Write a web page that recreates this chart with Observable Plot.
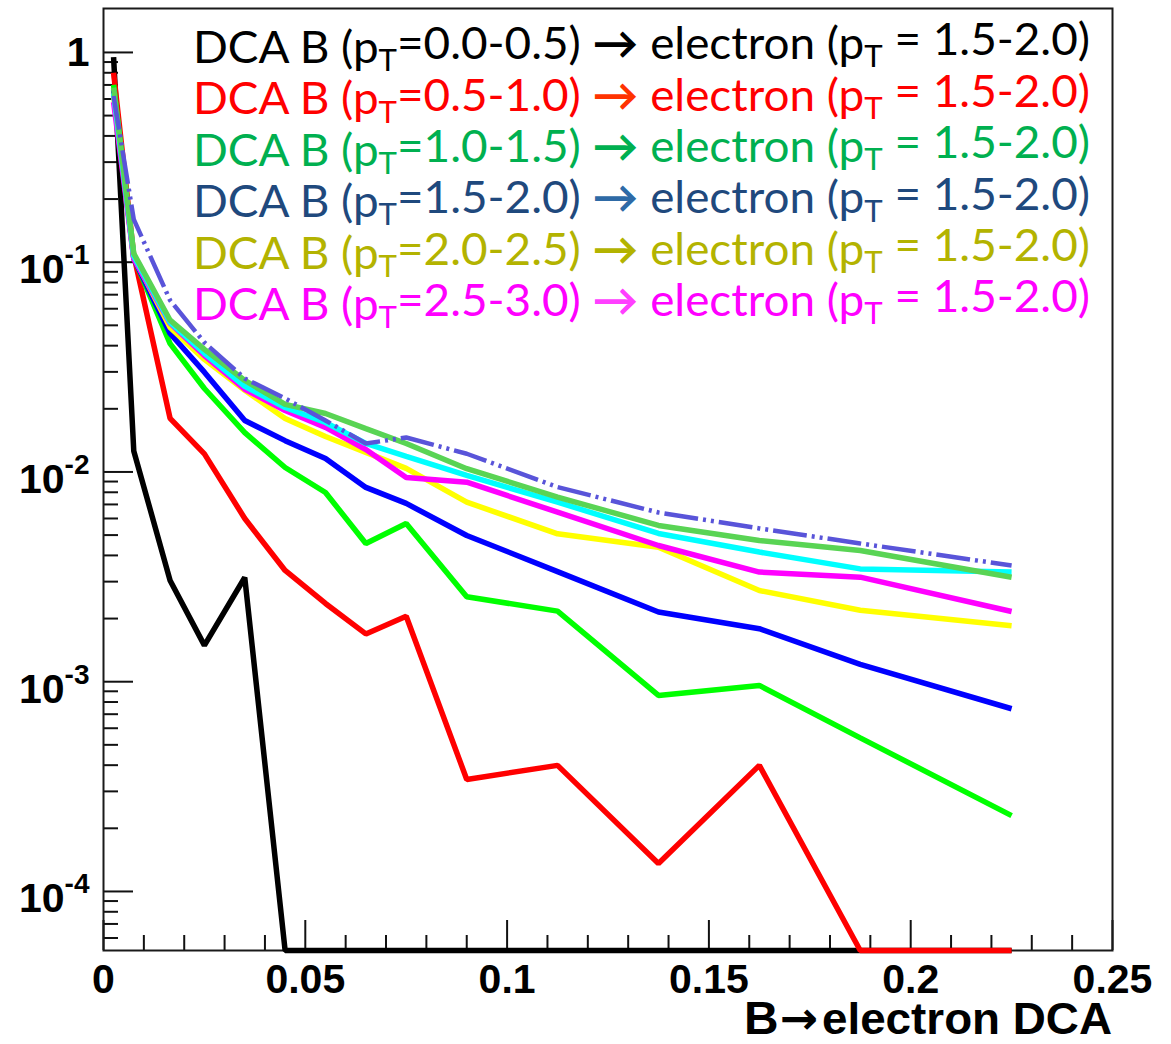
<!DOCTYPE html>
<html>
<head>
<meta charset="utf-8">
<script src="https://cdn.jsdelivr.net/npm/d3@7"></script>
<script src="https://cdn.jsdelivr.net/npm/@observablehq/plot@0.6"></script>
<style>
  body { margin: 0; background: #fff; }
  svg { display: block; }
</style>
</head>
<body>
<div id="chart"></div>
<script>
// Bin centres of the DCA histograms (cm)
const dcaBins = [0.0025, 0.0075, 0.0165, 0.025, 0.035, 0.045, 0.055, 0.065, 0.075, 0.09, 0.1125, 0.1375, 0.1625, 0.1875, 0.225];

// Normalised B -> electron DCA distributions, one per B pT bin (0 = empty bin)
const hDcaPt00_05 = [0.95, 0.0126, 0.00304, 0.00149, 0.00314, 0, 0, 0, 0, 0, 0, 0, 0, 0, 0];
const hDcaPt05_10 = [0.80, 0.108, 0.0180, 0.0122, 0.0060, 0.00339, 0.00236, 0.00169, 0.00205, 0.000342, 0.000399, 0.000136, 0.000399, 0, 0];
const hDcaPt10_15 = [0.70, 0.105, 0.0409, 0.0250, 0.0154, 0.0105, 0.00798, 0.00456, 0.00568, 0.00254, 0.00217, 0.00086, 0.00096, 0.00054, 0.00023];
const hDcaPt15_20 = [0.66, 0.104, 0.0457, 0.0299, 0.0176, 0.0141, 0.0116, 0.00844, 0.00708, 0.00498, 0.00335, 0.00215, 0.00179, 0.00121, 0.000743];
const hDcaPt20_25 = [0.62, 0.106, 0.0489, 0.0344, 0.0245, 0.0180, 0.01476, 0.0124, 0.0104, 0.00718, 0.00507, 0.00438, 0.00272, 0.00219, 0.00185];
const hDcaPt25_30 = [0.58, 0.104, 0.0511, 0.0359, 0.0248, 0.01964, 0.0163, 0.0128, 0.00941, 0.00894, 0.00643, 0.00446, 0.00333, 0.00315, 0.00216];
const hDcaPt30_35 = [0.64, 0.107, 0.0516, 0.0368, 0.0256, 0.0203, 0.0172, 0.01367, 0.01186, 0.00962, 0.00718, 0.00509, 0.00415, 0.00345, 0.00333];
const hDcaPt35_40 = [0.68, 0.110, 0.0529, 0.0384, 0.0273, 0.0210, 0.0190, 0.0161, 0.01367, 0.01036, 0.00759, 0.00556, 0.00471, 0.00422, 0.00315];
const hDcaPt40_45 = [0.62, 0.160, 0.0658, 0.0414, 0.0279, 0.0224, 0.0176, 0.01367, 0.0146, 0.01221, 0.00847, 0.00641, 0.00538, 0.00456, 0.00358];

// ROOT palette colours 1..9
const lineColors = ["#000000", "#ff0000", "#00ff00", "#0000ff", "#ffff00", "#ff00ff", "#00ffff", "#59d454", "#5954d9"];

// Legend rows
const legendPt = ["0.0-0.5", "0.5-1.0", "1.0-1.5", "1.5-2.0", "2.0-2.5", "2.5-3.0"];
const legendColors = ["#000000", "#ff0000", "#00b050", "#1f497d", "#b3b300", "#ff00ff"];
const legendArrowColors = ["#000000", "#ff3300", "#00b050", "#2e6aa6", "#b3b300", "#ff40ff"];
const electronPt = "1.5-2.0";

// Axis ticks and labels
const xMajor = [0, 0.05, 0.1, 0.15, 0.2, 0.25];
const xTickLabels = ["0", "0.05", "0.1", "0.15", "0.2", "0.25"];
const xMinor = [0.01, 0.02, 0.03, 0.04, 0.06, 0.07, 0.08, 0.09, 0.11, 0.12, 0.13, 0.14, 0.16, 0.17, 0.18, 0.19, 0.21, 0.22, 0.23, 0.24];
const yMajor = [1e-4, 1e-3, 1e-2, 1e-1, 1];
const yTickBase = ["10", "10", "10", "10", "1"];
const yTickExp = ["-4", "-3", "-2", "-1", ""];
const xTitle = ["B", "→", "electron DCA"];

const yMin = 5.23e-5, yMax = 1.62;
const yMinor = [-5, -4, -3, -2, -1, 0].flatMap(e => [2, 3, 4, 5, 6, 7, 8, 9].map(k => k * Math.pow(10, e)))
  .filter(v => v > yMin && v < yMax);

const width = 1171, height = 1044;
const margin = {top: 8, right: 59, bottom: 94, left: 103};
const frameW = width - margin.left - margin.right;
const frameH = height - margin.top - margin.bottom;

const series = [hDcaPt00_05, hDcaPt05_10, hDcaPt10_15, hDcaPt15_20, hDcaPt20_25, hDcaPt25_30, hDcaPt30_35, hDcaPt35_40, hDcaPt40_45];

// empty bins sit on the lower edge of the log axis
const lineMarks = series.map((vals, i) => Plot.line(
  vals.map((v, j) => ({x: dcaBins[j], y: Math.max(v, yMin)})),
  {
    x: "x", y: "y",
    stroke: lineColors[i],
    strokeWidth: i === 8 ? 4.5 : 5.5,
    strokeLinejoin: "miter",
    strokeLinecap: "butt",
    strokeDasharray: i === 8 ? "34,5,3,5,3,5" : null
  }
));

const axisFont = "'Liberation Sans', Arial, Helvetica, sans-serif";
const tickLabelIdx = xMajor.map((d, i) => i);
const yIdx = yMajor.map((d, i) => i);

const plot = Plot.plot({
  width, height,
  marginTop: margin.top, marginRight: margin.right, marginBottom: margin.bottom, marginLeft: margin.left,
  x: {domain: [0, 0.25], axis: null},
  y: {type: "log", domain: [yMin, yMax], axis: null},
  style: {background: "#fff"},
  marks: [
    // inward ROOT-style ticks
    Plot.tickX(xMajor, {x: d => d, insetTop: frameH - 30, stroke: "#111", strokeWidth: 2}),
    Plot.tickX(xMinor, {x: d => d, insetTop: frameH - 15, stroke: "#111", strokeWidth: 2}),
    Plot.tickY(yMajor, {y: d => d, insetRight: frameW - 30, stroke: "#111", strokeWidth: 2}),
    Plot.tickY(yMinor, {y: d => d, insetRight: frameW - 15, stroke: "#111", strokeWidth: 2}),
    Plot.frame({stroke: "#1a1a1a", strokeWidth: 2}),
    ...lineMarks,
    // x tick labels
    Plot.text(tickLabelIdx, {
      x: i => xMajor[i], text: i => xTickLabels[i],
      frameAnchor: "bottom", dy: 42, lineAnchor: "bottom",
      fontSize: 41, fontWeight: "bold", fontFamily: axisFont, fill: "#000"
    }),
    // y tick labels: mantissa and exponent
    Plot.text(yIdx.filter(i => yTickExp[i] !== ""), {
      y: i => yMajor[i], text: i => yTickBase[i],
      frameAnchor: "left", dx: -39, dy: 21, lineAnchor: "bottom", textAnchor: "end",
      fontSize: 41, fontWeight: "bold", fontFamily: axisFont, fill: "#000"
    }),
    Plot.text(yIdx.filter(i => yTickExp[i] !== ""), {
      y: i => yMajor[i], text: i => yTickExp[i],
      frameAnchor: "left", dx: -14, dy: 2, lineAnchor: "bottom", textAnchor: "end",
      fontSize: 28, fontWeight: "bold", fontFamily: axisFont, fill: "#000"
    }),
    Plot.text(yIdx.filter(i => yTickExp[i] === ""), {
      y: i => yMajor[i], text: i => yTickBase[i],
      frameAnchor: "left", dx: -14, lineAnchor: "middle", textAnchor: "end",
      fontSize: 41, fontWeight: "bold", fontFamily: axisFont, fill: "#000"
    })
  ]
});

document.getElementById("chart").appendChild(plot);

const svg = d3.select(plot);

// axis title, right-aligned to the frame, in a slightly condensed bold face
const titleRight = margin.left + frameW, titleWidth = 368;
const title = svg.append("text")
  .attr("x", titleRight - titleWidth)
  .attr("y", 1034)
  .attr("text-anchor", "start")
  .attr("font-family", axisFont)
  .attr("font-weight", "bold")
  .attr("fill", "#000")
  .attr("textLength", titleWidth)
  .attr("lengthAdjust", "spacingAndGlyphs");
title.append("tspan").attr("font-size", 47).text(xTitle[0]);
title.append("tspan").attr("font-size", 45).attr("dx", 1)
  .attr("font-family", "'DejaVu Sans', sans-serif").text(xTitle[1]);
title.append("tspan").attr("font-size", 45).attr("dx", 4).text(xTitle[2]);

// legend block: Calibri-like proportions (tall caps, narrow set width)
const legendFont = "Lato, 'Open Sans', 'Noto Sans', sans-serif";
const legendX = 193, legendY0 = 63, legendDy = 51.4, legendWidth = 897, legendSize = 44.5;
const legend = svg.append("g")
  .attr("font-family", legendFont)
  .attr("text-anchor", "start");
legendPt.forEach((pt, i) => {
  const t = legend.append("text")
    .attr("x", legendX)
    .attr("y", legendY0 + legendDy * i)
    .attr("text-anchor", "start")
    .attr("fill", legendColors[i])
    .attr("font-size", legendSize)
    .attr("textLength", legendWidth)
    .attr("lengthAdjust", "spacingAndGlyphs");
  t.append("tspan").text("DCA B (p");
  t.append("tspan").attr("font-size", "68%").attr("dy", "0.27em").text("T");
  t.append("tspan").attr("dy", "-0.27em").text(`=${pt}) `);
  t.append("tspan").attr("fill", legendArrowColors[i]).attr("font-weight", "bold").text("→");
  t.append("tspan").text(" electron (p");
  t.append("tspan").attr("font-size", "68%").attr("dy", "0.27em").text("T");
  t.append("tspan").attr("dy", "-0.27em").text(` = ${electronPt})`);
});
</script>
</body>
</html>
